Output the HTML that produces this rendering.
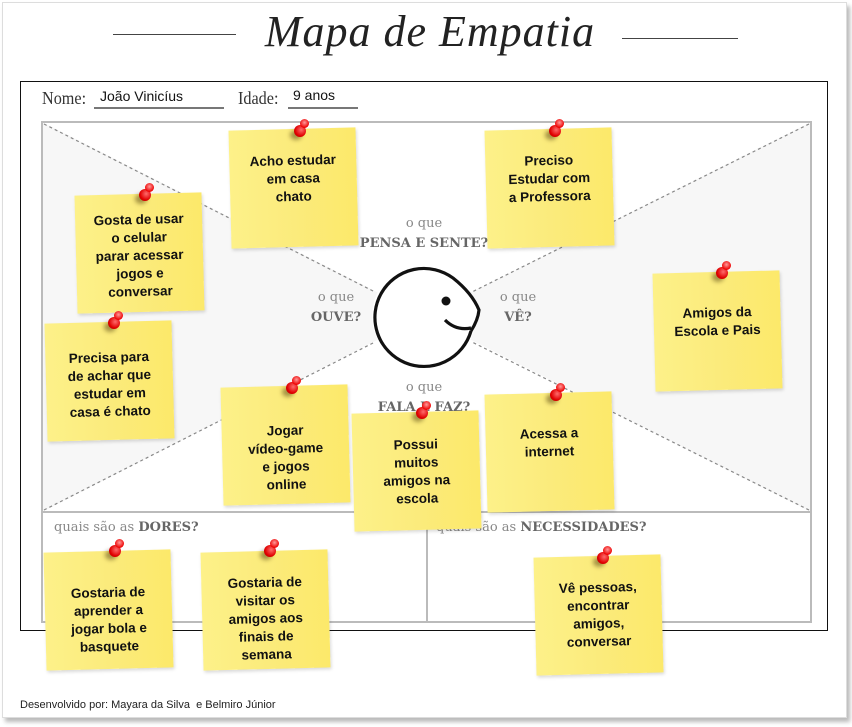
<!DOCTYPE html>
<html><head><meta charset="utf-8"><style>
*{margin:0;padding:0;box-sizing:border-box}
body{width:852px;height:727px;background:#fff;position:relative;overflow:hidden;font-family:"Liberation Sans",sans-serif}
.card{position:absolute;left:2px;top:2px;width:845px;height:716px;background:#fff;border:1px solid #ddd;box-shadow:3px 4px 4px #bbb}
.abs{position:absolute}
.note{position:absolute;width:127px;height:118px;background:linear-gradient(90deg,#fdf189 0%,#fbeb7c 50%,#fce96a 100%);box-shadow:1px 2px 3px rgba(0,0,0,.15);display:flex;align-items:center;justify-content:center;text-align:center;font-weight:bold;font-size:13.5px;line-height:18px;color:#111;padding:0 4px 18px 4px;white-space:nowrap}
.pin{position:absolute;width:12px;height:12px;border-radius:50%;background:radial-gradient(circle at 60% 40%,#ff6b6b,#e00000 60%,#a00 100%)}
.pin:after{content:"";position:absolute;left:6px;top:-6px;width:9px;height:9px;border-radius:50%;background:radial-gradient(circle at 50% 40%,#ff9a9a,#e00 70%)}
.shd{position:absolute;width:12px;height:10px;border-radius:50%;background:rgba(60,40,0,.45);filter:blur(2px)}
.lbl{position:absolute;font-family:"DejaVu Serif",serif;color:#888;font-size:13px;text-align:center;line-height:20px}
.lbl b{color:#666}
</style></head><body>
<div class="card"></div>
<div class="abs" style="left:113px;top:34px;width:123px;height:1px;background:#444"></div>
<div class="abs" style="left:622px;top:38px;width:116px;height:1px;background:#444"></div>
<div class="abs" style="left:240px;top:6px;width:380px;text-align:center;font-family:'Liberation Serif',serif;font-style:italic;font-size:44px;color:#222;letter-spacing:1px">Mapa de Empatia</div>
<div class="abs" style="left:20px;top:81px;width:808px;height:550px;border:1px solid #111;background:#fff"></div>
<div class="abs" style="left:42px;top:88px;font-family:'Liberation Serif',serif;font-size:18px;color:#333;transform:scaleX(.9);transform-origin:left">Nome:</div>
<div class="abs" style="left:94px;top:88px;width:130px;border-bottom:2px solid #777;font-size:14px;padding-left:6px;height:21px;color:#111">João Vinicíus</div>
<div class="abs" style="left:238px;top:88px;font-family:'Liberation Serif',serif;font-size:18px;color:#333;transform:scaleX(.9);transform-origin:left">Idade:</div>
<div class="abs" style="left:288px;top:87px;width:70px;border-bottom:2px solid #777;font-size:14px;padding-left:5px;height:22px;color:#111">9 anos</div>
<svg class="abs" style="left:0;top:0" width="852" height="727">
<rect x="42" y="122" width="769" height="500" fill="#fff" stroke="#bbb" stroke-width="2"/>
<polygon points="42,122 424,316 42,512" fill="#f7f7f7"/>
<polygon points="811,122 424,316 811,512" fill="#f7f7f7"/>
<rect x="42" y="122" width="769" height="500" fill="none" stroke="#bbb" stroke-width="2"/>
<line x1="42" y1="512" x2="811" y2="512" stroke="#bbb" stroke-width="2"/>
<line x1="427" y1="512" x2="427" y2="622" stroke="#bbb" stroke-width="2"/>
<g stroke="#888" stroke-dasharray="3,3" stroke-width="1.2">
<line x1="44" y1="124" x2="375" y2="292"/><line x1="809" y1="124" x2="472" y2="292"/>
<line x1="44" y1="510" x2="375" y2="342"/><line x1="809" y1="510" x2="472" y2="342"/>
</g>
<circle cx="424" cy="316" r="52" fill="#fff"/>
<path d="M471,331 A49,49 0 1 1 453,278 Q472,293 479,310 Q478,320 471,331" fill="#fff" stroke="#111" stroke-width="3.2"/>
<circle cx="446" cy="301" r="4.5" fill="#111"/>
<path d="M445,320 Q456,331 471,328" fill="none" stroke="#111" stroke-width="3.2"/>
</svg>
<div class="lbl" style="left:334px;top:214px;width:180px">o que<br><b>PENSA E SENTE?</b></div>
<div class="lbl" style="left:296px;top:288px;width:80px">o que<br><b>OUVE?</b></div>
<div class="lbl" style="left:478px;top:288px;width:80px">o que<br><b>VÊ?</b></div>
<div class="lbl" style="left:354px;top:378px;width:140px">o que<br><b>FALA E FAZ?</b></div>
<div class="lbl" style="left:54px;top:518px;text-align:left">quais são as <b>DORES?</b></div>
<div class="lbl" style="left:436px;top:518px;text-align:left">quais são as <b>NECESSIDADES?</b></div>

<div class="note" style="left:230px;top:129px;transform:rotate(-1.5deg)">Acho estudar<br>em casa<br>chato</div>
<div class="note" style="left:486px;top:129px;transform:rotate(-1.5deg)">Preciso<br>Estudar com<br>a Professora</div>
<div class="note" style="left:76px;top:194px;transform:rotate(-1.5deg);padding-top:6px;padding-bottom:0">Gosta de usar<br>o celular<br>parar acessar<br>jogos e<br>conversar</div>
<div class="note" style="left:46px;top:322px;transform:rotate(-1.5deg);padding-top:8px;padding-bottom:0">Precisa para<br>de achar que<br>estudar em<br>casa é chato</div>
<div class="note" style="left:654px;top:272px;transform:rotate(-1.5deg)">Amigos da<br>Escola e Pais</div>
<div class="note" style="left:222px;top:386px;transform:rotate(-1.5deg);padding-top:26px;padding-bottom:0">Jogar<br>vídeo-game<br>e jogos<br>online</div>
<div class="note" style="left:353px;top:412px;transform:rotate(-1.5deg);padding-top:2px;padding-bottom:0">Possui<br>muitos<br>amigos na<br>escola</div>
<div class="note" style="left:486px;top:393px;transform:rotate(-1.5deg)">Acessa a<br>internet</div>
<div class="note" style="left:45px;top:551px;transform:rotate(-1.5deg);padding-top:20px;padding-bottom:0">Gostaria de<br>aprender a<br>jogar bola e<br>basquete</div>
<div class="note" style="left:202px;top:551px;transform:rotate(-1.5deg);padding-top:18px;padding-bottom:0">Gostaria de<br>visitar os<br>amigos aos<br>finais de<br>semana</div>
<div class="note" style="left:535px;top:556px;transform:rotate(-1.5deg);padding-bottom:0">Vê pessoas,<br>encontrar<br>amigos,<br>conversar</div>

<div class="shd" style="left:290px;top:130px"></div><div class="pin" style="left:294px;top:125px"></div>
<div class="shd" style="left:545px;top:130px"></div><div class="pin" style="left:549px;top:125px"></div>
<div class="shd" style="left:135px;top:194px"></div><div class="pin" style="left:139px;top:189px"></div>
<div class="shd" style="left:104px;top:322px"></div><div class="pin" style="left:108px;top:317px"></div>
<div class="shd" style="left:712px;top:272px"></div><div class="pin" style="left:716px;top:267px"></div>
<div class="shd" style="left:282px;top:387px"></div><div class="pin" style="left:286px;top:382px"></div>
<div class="shd" style="left:412px;top:412px"></div><div class="pin" style="left:416px;top:407px"></div>
<div class="shd" style="left:546px;top:394px"></div><div class="pin" style="left:550px;top:389px"></div>
<div class="shd" style="left:105px;top:550px"></div><div class="pin" style="left:109px;top:545px"></div>
<div class="shd" style="left:260px;top:550px"></div><div class="pin" style="left:264px;top:545px"></div>
<div class="shd" style="left:593px;top:557px"></div><div class="pin" style="left:597px;top:552px"></div>

<div class="abs" style="left:20px;top:699px;font-size:11px;color:#222">Desenvolvido por: Mayara da Silva&nbsp; e Belmiro Júnior</div>
</body></html>
